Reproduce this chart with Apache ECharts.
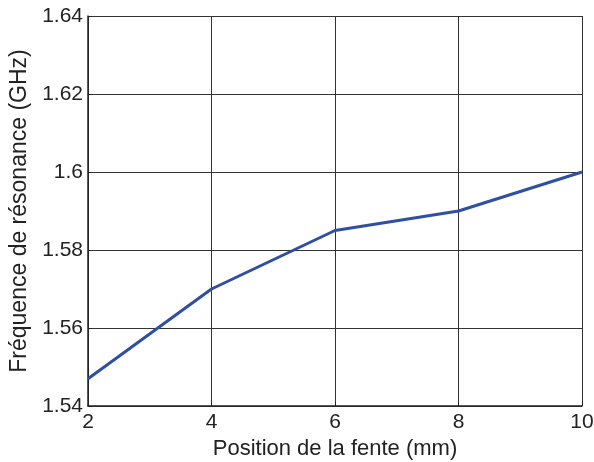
<!DOCTYPE html>
<html>
<head>
    <meta charset="utf-8">
    <title>Fréquence de résonance</title>
    <script src="https://cdn.jsdelivr.net/npm/echarts@6/dist/echarts.min.js"></script>
</head>
<body style="margin:0;">
    <div id="chart" style="width: 594px; height: 462px;"></div>
    <script type="text/javascript">
        var positions = [2, 4, 6, 8, 10];
        var frequencies = [1.547, 1.57, 1.585, 1.59, 1.6];

        var chart = echarts.init(document.getElementById('chart'), null, { renderer: 'canvas' });
        var font = 'Liberation Sans, Arial, sans-serif';

        chart.setOption({
            animation: false,
            backgroundColor: '#fff',
            grid: { left: 88, top: 16, right: 12, bottom: 56, containLabel: false, outerBoundsMode: 'none' },
            xAxis: {
                type: 'value', min: 2, max: 10, interval: 2,
                name: 'Position de la fente (mm)', nameLocation: 'middle', nameGap: 30,
                nameTextStyle: { fontFamily: font, fontSize: 22, color: '#222' },
                axisLine: { show: true, onZero: false, lineStyle: { color: '#222', width: 1.5 } },
                axisTick: { show: true, inside: true, length: 4, lineStyle: { color: '#222' } },
                axisLabel: { fontFamily: font, fontSize: 21, color: '#222', margin: 6 },
                splitLine: { show: true, lineStyle: { color: '#333', width: 1 } }
            },
            yAxis: {
                type: 'value', min: 1.54, max: 1.64, interval: 0.02,
                name: 'Fréquence de résonance (GHz)', nameLocation: 'middle', nameGap: 54,
                nameTextStyle: { fontFamily: font, fontSize: 23, color: '#222' },
                axisLine: { show: true, lineStyle: { color: '#222', width: 1.5 } },
                axisTick: { show: true, inside: true, length: 4, lineStyle: { color: '#222' } },
                axisLabel: {
                    fontFamily: font, fontSize: 21, color: '#222', margin: 5,
                    formatter: function (v) { return String(parseFloat(v.toFixed(2))); }
                },
                splitLine: { show: true, lineStyle: { color: '#333', width: 1 } }
            },
            series: [{
                type: 'line',
                data: positions.map(function (x, i) { return [x, frequencies[i]]; }),
                showSymbol: false,
                lineStyle: { color: '#2E4FA3', width: 3 }
            }]
        });
    </script>
</body>
</html>
